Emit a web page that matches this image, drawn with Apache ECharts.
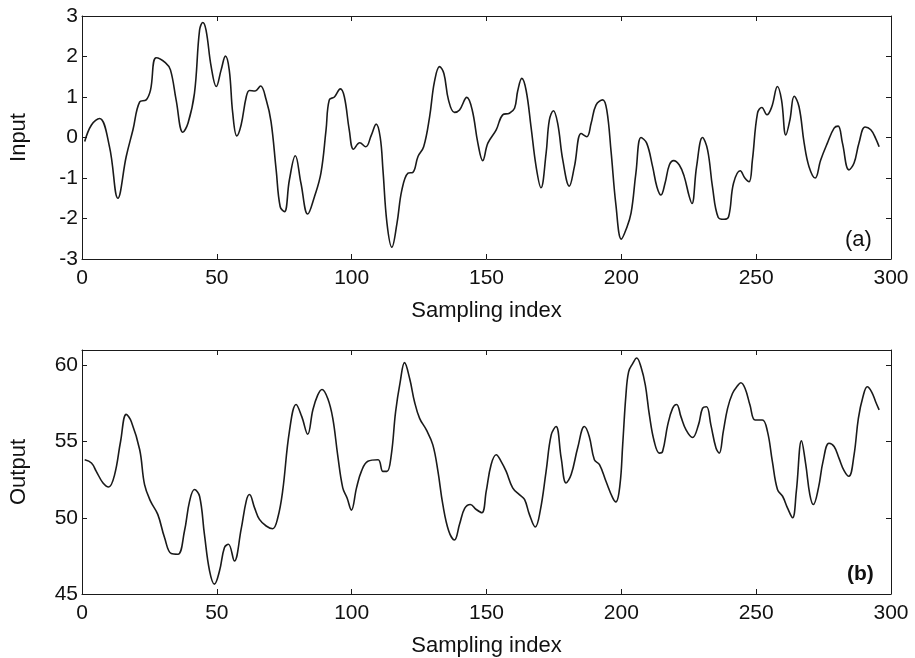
<!DOCTYPE html>
<html>
<head>
<meta charset="utf-8">
<script src="https://cdn.jsdelivr.net/npm/echarts@6/dist/echarts.min.js"></script>
<style>
  html, body { margin: 0; padding: 0; background: #fff; }
  #chart { width: 915px; height: 658px; }
</style>
</head>
<body>
<div id="chart"></div>
<script>
// sampling index / value pairs
const inputIdx = [1.0, 3.5, 6.5, 10.2, 13.3, 16.4, 18.9, 21.4, 23.8, 25.4, 27.5, 30.9, 32.8, 34.9, 37.4, 39.3,
  41.7, 43.6, 44.8, 46.0, 47.9, 49.8, 51.6, 53.2, 54.6, 55.9, 57.4, 59.0, 60.9, 62.1, 64.2, 66.2, 68.3, 70.1,
  72.0, 73.5, 75.1, 76.9, 79.1, 81.2, 83.7, 86.2, 88.6, 90.5, 91.7, 93.6, 95.8, 97.3, 99.1, 100.7, 103.0,
  105.2, 107.3, 109.1, 110.6, 111.6, 113.1, 114.9, 116.8, 118.6, 120.9, 122.7, 124.6, 126.7, 128.9, 130.7,
  132.6, 134.2, 135.9, 138.1, 140.0, 142.7, 144.7, 146.8, 148.6, 150.5, 153.6, 156.0, 158.5, 160.4, 161.6,
  163.1, 164.7, 166.5, 168.4, 170.2, 172.1, 173.3, 174.8, 176.4, 178.3, 180.7, 182.6, 185.1, 187.2, 188.8,
  190.6, 193.1, 194.6, 196.2, 198.0, 200.0, 201.7, 203.6, 205.4, 207.3, 209.4, 211.6, 213.2, 214.7, 216.2,
  217.8, 219.4, 221.5, 223.3, 225.2, 226.2, 227.9, 230.1, 232.0, 233.8, 235.9, 238.1, 239.8, 241.6, 244.1,
  245.8, 247.4, 248.6, 250.5, 252.1, 254.0, 255.8, 257.9, 259.4, 261.0, 262.5, 264.1, 265.9, 267.8, 269.6,
  271.9, 273.9, 276.4, 278.9, 280.4, 282.0, 284.4, 286.3, 288.1, 290.4, 292.5, 294.3, 295.6];
const inputVal = [-0.10, 0.31, 0.47, -0.23, -1.50, -0.47, 0.19, 0.88, 0.93, 1.17, 1.97, 1.85, 1.67, 0.93, 0.13, 0.35,
  1.09, 2.65, 2.84, 2.65, 1.75, 1.26, 1.67, 2.01, 1.67, 0.60, 0.04, 0.31, 1.00, 1.16, 1.15, 1.27, 0.93, 0.39,
  -0.80, -1.71, -1.83, -1.05, -0.45, -1.13, -1.89, -1.46, -0.88, 0.19, 0.93, 1.00, 1.20, 1.00, 0.19, -0.29, -0.13,
  -0.23, 0.06, 0.33, 0.00, -0.80, -2.12, -2.71, -2.12, -1.30, -0.88, -0.86, -0.47, -0.23, 0.51, 1.38,
  1.75, 1.58, 0.93, 0.62, 0.68, 0.99, 0.68, -0.14, -0.57, -0.14, 0.19, 0.56, 0.60, 0.72, 1.16,
  1.46, 1.16, 0.27, -0.72, -1.24, -0.39, 0.43, 0.66, 0.35, -0.56, -1.20, -0.72, 0.10, 0.02, 0.35,
  0.80, 0.93, 0.68, -0.35, -1.67, -2.51, -2.28, -1.87, -0.88, 0.00, -0.14, -0.72, -1.22, -1.42, -1.13,
  -0.68, -0.57, -0.68, -0.96, -1.46, -1.63, -0.72, 0.00, -0.31, -1.22, -1.97, -2.02, -1.95, -1.13, -0.82,
  -1.00, -1.09, -0.56, 0.60, 0.74, 0.56, 0.76, 1.26, 0.93, 0.06, 0.43, 1.02, 0.76, -0.14, -0.72,
  -1.00, -0.56, -0.14, 0.23, 0.28, -0.14, -0.80, -0.63, -0.14, 0.26, 0.19, -0.02, -0.23];

const outputIdx = [1.0, 3.5, 5.3, 7.8, 9.9, 12.1, 14.3, 16.4, 18.3, 21.4, 23.2, 25.4, 28.1, 30.6, 33.1, 35.6,
  38.0, 39.9, 41.7, 43.6, 45.4, 47.3, 49.1, 51.0, 52.8, 54.3, 56.5, 59.0, 60.9, 62.1, 64.0, 65.8, 68.3, 70.7,
  72.6, 74.4, 76.9, 79.4, 81.5, 83.7, 85.6, 87.4, 89.0, 91.1, 93.0, 94.8, 96.7, 98.3, 99.9, 101.8, 103.6,
  106.0, 109.8, 111.6, 113.1, 114.7, 116.3, 118.0, 119.6, 121.5, 123.3, 125.2, 127.7, 130.1, 132.0, 133.8,
  136.0, 138.1, 140.0, 141.9, 144.0, 146.2, 148.3, 149.9, 151.7, 153.6, 155.4, 157.3, 159.7, 162.2, 164.1,
  165.9, 168.1, 169.9, 172.1, 174.0, 175.8, 177.7, 179.5, 181.4, 183.8, 186.3, 188.1, 190.0, 191.9, 194.3,
  196.8, 198.0, 199.5, 200.5, 201.7, 202.7, 204.2, 205.7, 207.3, 208.9, 210.4, 212.2, 214.1, 215.3, 217.2,
  219.0, 220.5, 222.1, 224.0, 226.4, 228.6, 230.1, 231.6, 233.2, 235.1, 236.3, 237.8, 239.4, 241.2, 243.1,
  244.3, 245.9, 247.7, 249.6, 252.3, 254.2, 256.0, 257.9, 259.8, 261.6, 263.5, 264.9, 266.8, 268.4, 269.9,
  271.2, 273.1, 274.8, 277.0, 278.9, 280.7, 282.6, 284.4, 286.3, 287.9, 289.6, 291.2, 292.8, 294.3, 295.6];
const outputVal = [53.80, 53.59, 53.04, 52.28, 52.02, 52.83, 55.00, 56.78, 56.30, 54.46, 52.17, 51.09, 50.22, 48.70, 47.65, 47.61,
  49.13, 51.09, 51.85, 51.41, 48.91, 46.52, 45.65, 46.52, 48.04, 48.26, 47.17, 49.24, 51.09, 51.52, 50.65, 49.89, 49.46, 49.28,
  50.00, 51.74, 55.65, 57.43, 56.63, 55.48, 57.07, 58.04, 58.41, 57.83, 56.52, 54.13, 51.96, 51.30, 50.50, 51.96, 53.04,
  53.70, 53.80, 53.04, 53.04, 54.13, 56.96, 58.91, 60.17, 59.13, 57.61, 56.52, 55.76, 54.78, 53.04, 50.87,
  49.13, 48.54, 49.57, 50.61, 50.87, 50.54, 50.33, 51.74, 53.48, 54.13, 53.70, 53.04, 51.96, 51.52, 51.20,
  50.22, 49.39, 50.43, 53.04, 55.43, 55.98, 53.91, 52.28, 52.83, 54.57, 55.98, 55.33, 53.80, 53.48, 52.39,
  51.30, 51.04, 52.17, 54.78, 58.04, 59.57, 60.11, 60.48, 59.89, 58.70, 56.74, 55.00, 54.24, 54.35, 56.09,
  57.17, 57.43, 56.63, 55.76, 55.26, 56.09, 57.17, 57.28, 56.09, 54.57, 54.24, 55.65, 57.17, 58.15, 58.65,
  58.85, 58.48, 57.39, 56.41, 56.41, 55.65, 53.70, 51.85, 51.41, 50.65, 50.00, 51.74, 55.04, 53.48, 51.52,
  50.87, 51.96, 53.70, 54.89, 54.67, 53.91, 53.09, 52.72, 54.13, 56.52, 57.93, 58.59, 58.26, 57.61, 57.07];

const xRange = [0, 300];
const xStep = 50;
const inputRange = [-3, 3];
const inputStep = 1;
const outputRange = [45, 61];
const outputStep = 5;
const panelTags = ['(a)', '(b)'];

const FONT = 'Liberation Sans, Arial, Helvetica, sans-serif';
const INK = '#1a1a1a';

function zip(xs, ys) {
  return xs.map((x, i) => [x, ys[i]]);
}

function xAxisFor(grid, pos) {
  const main = pos === 'bottom';
  return {
    type: 'value', gridIndex: grid, position: pos,
    min: xRange[0], max: xRange[1], interval: xStep,
    axisLine: { show: true, onZero: false, lineStyle: { color: INK, width: 1 } },
    axisTick: { show: true, inside: true, length: 5, lineStyle: { color: INK } },
    axisLabel: { show: main, fontSize: 21, margin: 9, color: '#111', fontFamily: FONT },
    splitLine: { show: false },
    name: main ? 'Sampling index' : '',
    nameLocation: 'middle', nameGap: 41,
    nameTextStyle: { fontSize: 22, color: '#111', fontFamily: FONT }
  };
}

function yAxisFor(grid, pos, range, step, label) {
  const main = pos === 'left';
  return {
    type: 'value', gridIndex: grid, position: pos,
    min: range[0], max: range[1], interval: step,
    axisLine: { show: true, onZero: false, lineStyle: { color: INK, width: 1 } },
    axisTick: { show: true, inside: true, length: 5, lineStyle: { color: INK } },
    axisLabel: { show: main, fontSize: 21, margin: 4, color: '#111', fontFamily: FONT, showMaxLabel: range[1] % step === 0 },
    splitLine: { show: false },
    name: main ? label : '',
    nameLocation: 'middle', nameGap: 52,
    nameTextStyle: { fontSize: 22, color: '#111', fontFamily: FONT }
  };
}

const chart = echarts.init(document.getElementById('chart'), null, { renderer: 'canvas' });

chart.setOption({
  backgroundColor: '#fff',
  animation: false,
  grid: [
    { left: 82, right: 24, top: 16, height: 243 },
    { left: 82, right: 24, top: 350, height: 245 }
  ],
  xAxis: [xAxisFor(0, 'bottom'), xAxisFor(0, 'top'), xAxisFor(1, 'bottom'), xAxisFor(1, 'top')],
  yAxis: [
    yAxisFor(0, 'left', inputRange, inputStep, 'Input'),
    yAxisFor(0, 'right', inputRange, inputStep, ''),
    yAxisFor(1, 'left', outputRange, outputStep, 'Output'),
    yAxisFor(1, 'right', outputRange, outputStep, '')
  ],
  graphic: [
    { type: 'text', left: 845, top: 229, style: { text: panelTags[0], font: '22px ' + FONT, fill: '#111' } },
    { type: 'text', left: 847, top: 564, style: { text: panelTags[1], font: 'bold 21px ' + FONT, fill: '#111' } }
  ],
  series: [
    {
      type: 'line', xAxisIndex: 0, yAxisIndex: 0,
      data: zip(inputIdx, inputVal),
      showSymbol: false, smooth: 0.4,
      lineStyle: { color: INK, width: 1.6 }
    },
    {
      type: 'line', xAxisIndex: 2, yAxisIndex: 2,
      data: zip(outputIdx, outputVal),
      showSymbol: false, smooth: 0.4,
      lineStyle: { color: INK, width: 1.6 }
    }
  ]
});
</script>
</body>
</html>
